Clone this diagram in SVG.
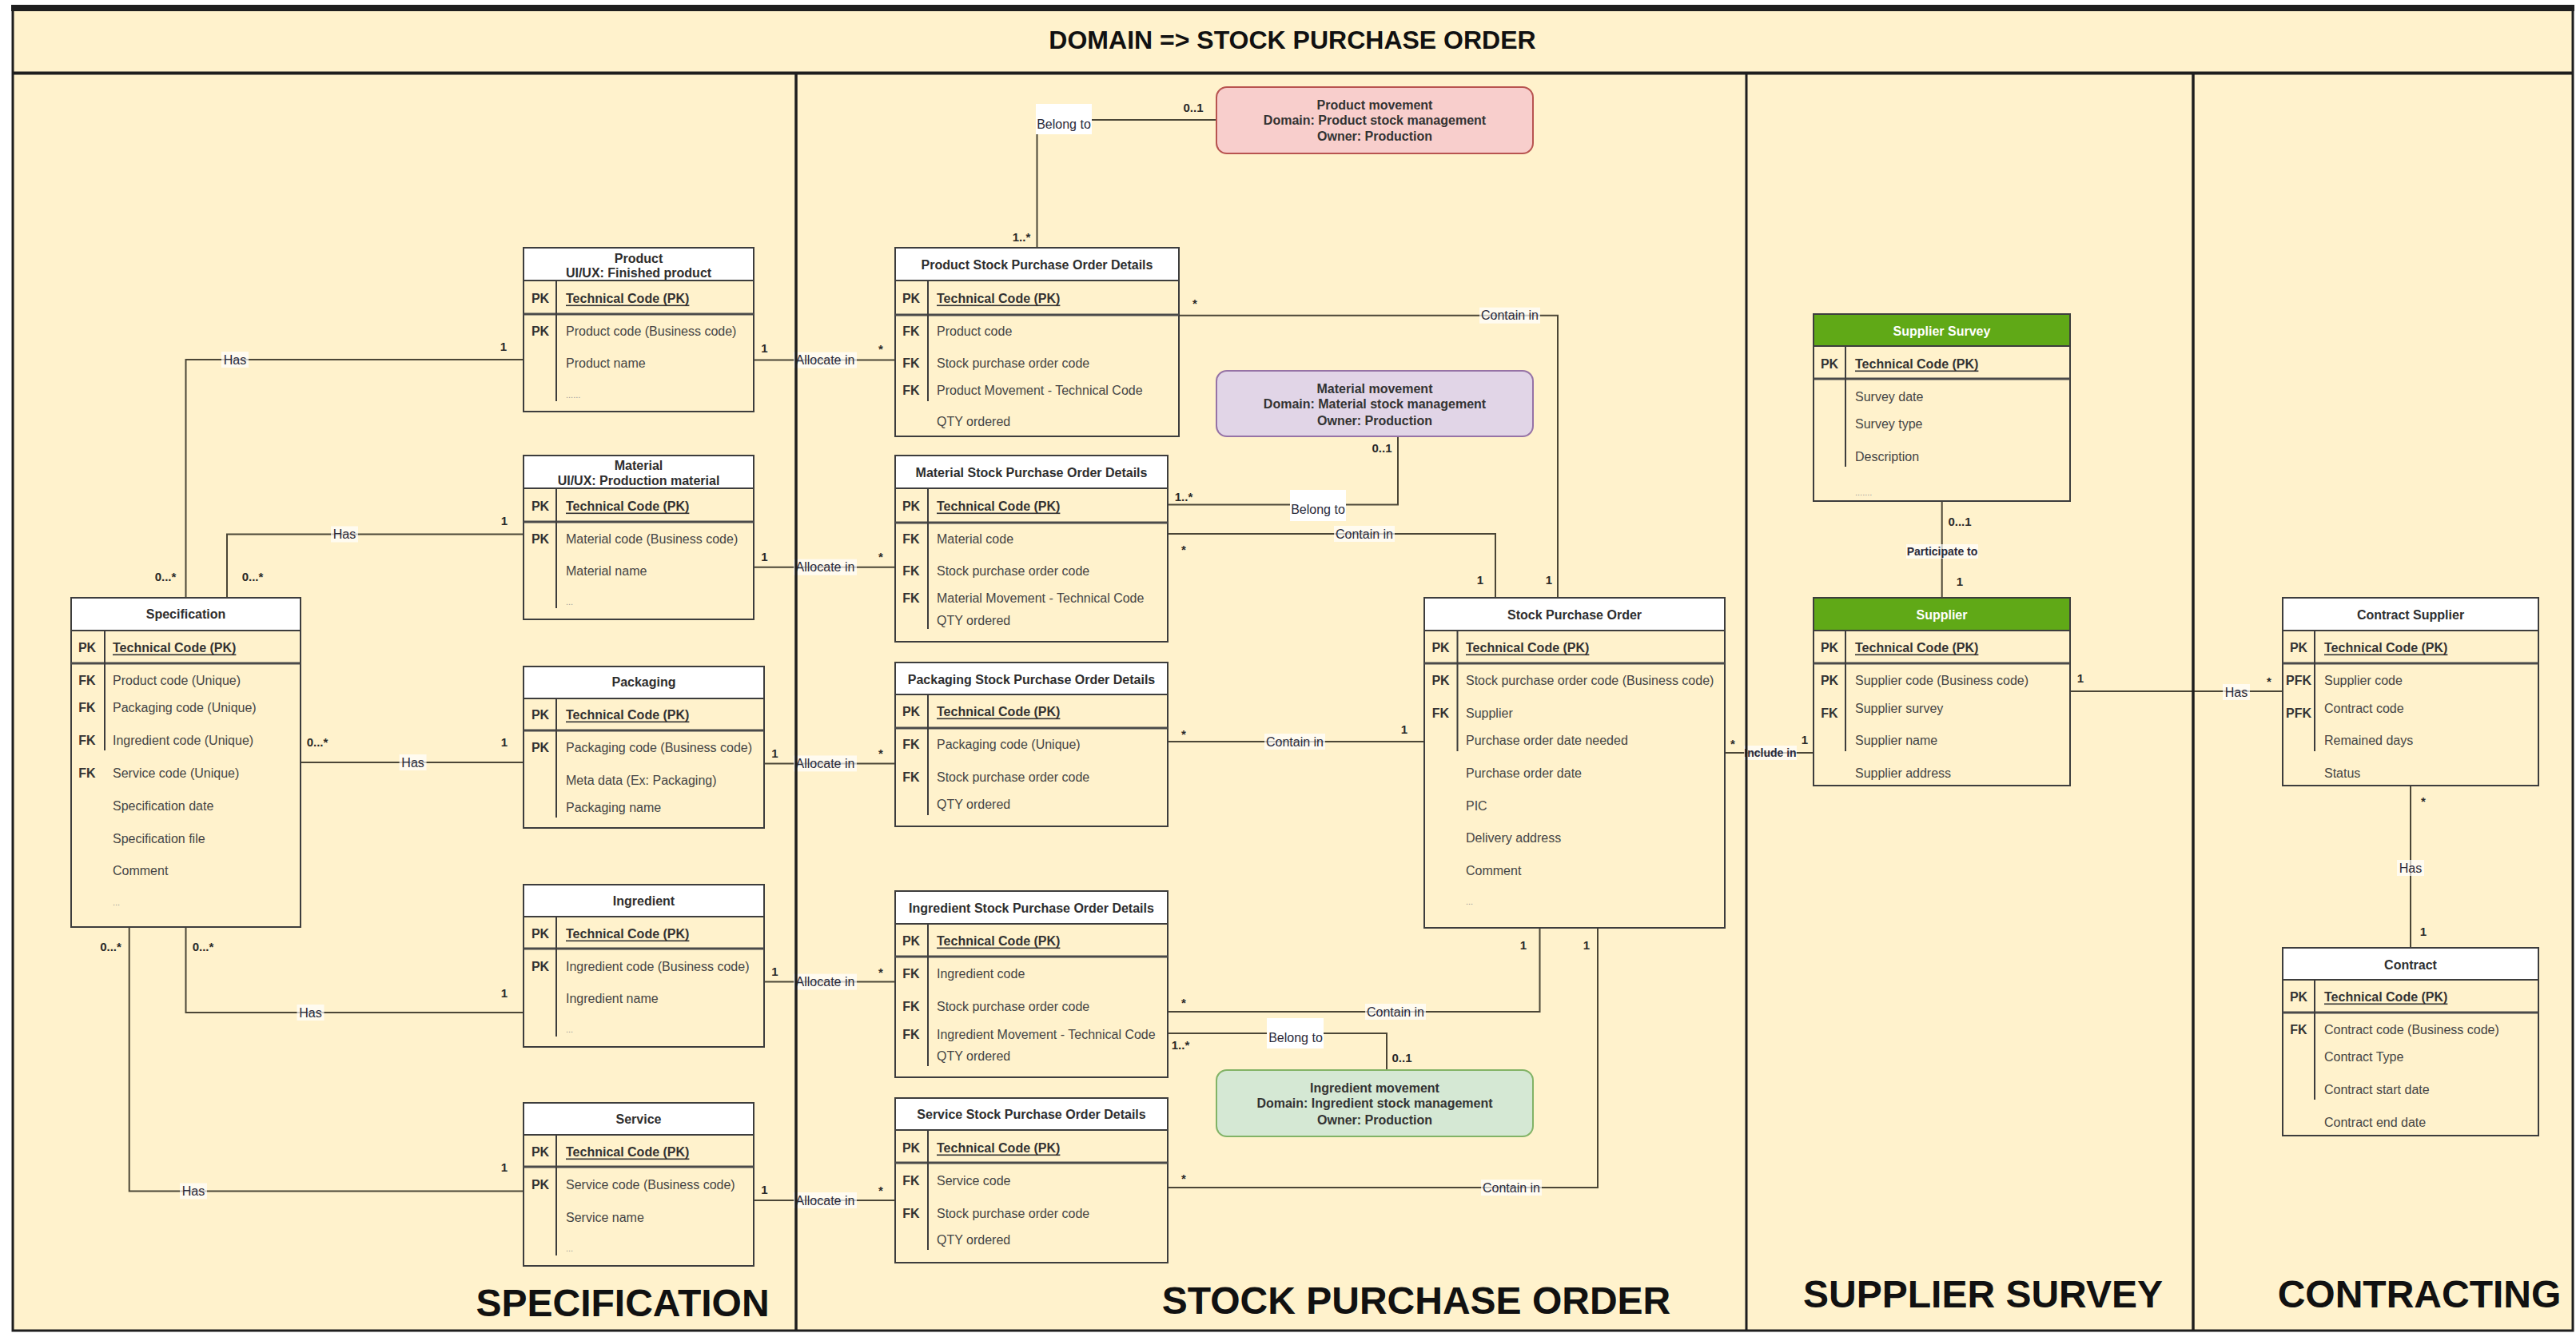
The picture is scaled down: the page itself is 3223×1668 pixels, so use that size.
<svg xmlns="http://www.w3.org/2000/svg" width="3223" height="1668" viewBox="0 0 3223 1668">
<style>
text{font-family:"Liberation Sans",Arial,Helvetica,sans-serif}
.hdr{fill:#ffffff;stroke:#3d3d3d;stroke-width:2}
.ghdr{fill:#60a917;stroke:#3d3d3d;stroke-width:2}
.box{fill:none;stroke:#3d3d3d;stroke-width:2}
.sep{stroke:#3d3d3d;stroke-width:2}
.sep2{stroke:#4a4a4a;stroke-width:3}
.tt{font-size:16px;font-weight:bold;fill:#2e2e2e;text-anchor:middle;dominant-baseline:central}
.wt{fill:#ffffff}
.k{font-size:16px;font-weight:bold;fill:#333333;text-anchor:middle;dominant-baseline:central}
.f{font-size:16px;fill:#454545;dominant-baseline:central}
.pk{font-size:16px;font-weight:bold;fill:#333333;text-decoration:underline;dominant-baseline:central}
.dots{font-size:11px;fill:#9a9a9a;dominant-baseline:central}
.mvp{fill:#f8cecc;stroke:#b85450;stroke-width:2}
.mvv{fill:#e1d5e7;stroke:#9673a6;stroke-width:2}
.mvg{fill:#d5e8d4;stroke:#82b366;stroke-width:2}
.mv{font-size:16px;font-weight:bold;fill:#333333;text-anchor:middle;dominant-baseline:central}
.c{fill:none;stroke:#4b4636;stroke-width:2}
.lb{font-size:16px;fill:#2a2a3a;text-anchor:middle;dominant-baseline:central}
.lbs{font-size:14px;font-weight:bold;fill:#2a2a3a;text-anchor:middle;dominant-baseline:central}
.lbg{fill:#ffffff;opacity:0.7}
.lbw{fill:#ffffff}
.cd{font-size:15px;font-weight:bold;fill:#2a2a2a;text-anchor:middle;dominant-baseline:central}
.big{font-size:48px;font-weight:bold;fill:#111111;text-anchor:middle}
.fr{stroke:#1e1e1e;fill:none}
</style>
<rect x="0" y="0" width="3223" height="1668" fill="#ffffff"/>
<rect x="15.5" y="10" width="3203" height="1655" fill="#fff2cc"/>
<text x="1617" y="61" font-size="32" font-weight="bold" fill="#111111" text-anchor="middle">DOMAIN =&gt; STOCK PURCHASE ORDER</text>

<g id="connectors">
<path class="c" d="M232.5,748 V450 H655"/>
<path class="c" d="M284,748 V668.5 H655"/>
<path class="c" d="M376,954 H655"/>
<path class="c" d="M232.5,1160 V1267 H655"/>
<path class="c" d="M161.7,1160 V1490.5 H655"/>
<path class="c" d="M943,450.6 H1120"/>
<path class="c" d="M943,709.7 H1120"/>
<path class="c" d="M956,955.4 H1120"/>
<path class="c" d="M956,1228.6 H1120"/>
<path class="c" d="M943,1502 H1120"/>
<path class="c" d="M1475,394.7 H1949 V748"/>
<path class="c" d="M1461,668 H1871 V748"/>
<path class="c" d="M1461,928 H1782"/>
<path class="c" d="M1461,1266 H1926.5 V1161"/>
<path class="c" d="M1461,1486 H1999 V1161"/>
<path class="c" d="M1297.5,310 V150 H1522"/>
<path class="c" d="M1461,631.5 H1749 V546.5"/>
<path class="c" d="M1461,1293 H1735 V1339"/>
<path class="c" d="M2158,942 H2269"/>
<path class="c" d="M2429.7,627 V748"/>
<path class="c" d="M2590,865 H2856"/>
<path class="c" d="M3016,983 V1186"/>

<rect class="lbg" x="277" y="440" width="34" height="20"/><text class="lb" x="294" y="450">Has</text>
<rect class="lbg" x="414" y="658.5" width="34" height="20"/><text class="lb" x="431" y="668.5">Has</text>
<rect class="lbg" x="499.6" y="944" width="34" height="20"/><text class="lb" x="516.6" y="954">Has</text>
<rect class="lbg" x="371.5" y="1257" width="34" height="20"/><text class="lb" x="388.5" y="1267">Has</text>
<rect class="lbg" x="225" y="1480.5" width="34" height="20"/><text class="lb" x="242" y="1490.5">Has</text>
<rect class="lbg" x="993" y="440.6" width="79" height="20"/><text class="lb" x="1032.5" y="450.6">Allocate in</text>
<rect class="lbg" x="993" y="699.7" width="79" height="20"/><text class="lb" x="1032.5" y="709.7">Allocate in</text>
<rect class="lbg" x="993" y="945.4" width="79" height="20"/><text class="lb" x="1032.5" y="955.4">Allocate in</text>
<rect class="lbg" x="993" y="1218.6" width="79" height="20"/><text class="lb" x="1032.5" y="1228.6">Allocate in</text>
<rect class="lbg" x="993" y="1492" width="79" height="20"/><text class="lb" x="1032.5" y="1502">Allocate in</text>
<rect class="lbg" x="1851" y="384.7" width="76" height="20"/><text class="lb" x="1889" y="394.7">Contain in</text>
<rect class="lbg" x="1669" y="658" width="76" height="20"/><text class="lb" x="1707" y="668">Contain in</text>
<rect class="lbg" x="1582" y="918" width="76" height="20"/><text class="lb" x="1620" y="928">Contain in</text>
<rect class="lbg" x="1708" y="1256" width="76" height="20"/><text class="lb" x="1746" y="1266">Contain in</text>
<rect class="lbg" x="1853" y="1476" width="76" height="20"/><text class="lb" x="1891" y="1486">Contain in</text>
<rect class="lbw" x="1296" y="130" width="70" height="38"/><text class="lb" x="1331" y="155">Belong to</text>
<rect class="lbw" x="1614" y="613" width="70" height="39"/><text class="lb" x="1649" y="637">Belong to</text>
<rect class="lbw" x="1585" y="1274" width="71" height="38"/><text class="lb" x="1621" y="1298.5">Belong to</text>
<rect class="lbg" x="2182" y="933" width="66" height="18"/><text class="lbs" x="2215" y="942">Include in</text>
<rect class="lbg" x="2385" y="681" width="90" height="18"/><text class="lbs" x="2430" y="690">Participate to</text>
<rect class="lbg" x="2781" y="856" width="34" height="20"/><text class="lb" x="2798" y="866">Has</text>
<rect class="lbg" x="2999" y="1076" width="34" height="20"/><text class="lb" x="3016" y="1086">Has</text>

<text class="cd" x="630" y="433">1</text><text class="cd" x="207" y="721">0...*</text>
<text class="cd" x="631" y="651">1</text><text class="cd" x="316" y="721">0...*</text>
<text class="cd" x="397" y="928.5">0...*</text><text class="cd" x="631" y="928">1</text>
<text class="cd" x="254" y="1184">0...*</text><text class="cd" x="631" y="1242">1</text>
<text class="cd" x="138.5" y="1184">0...*</text><text class="cd" x="631" y="1460">1</text>
<text class="cd" x="956.5" y="435">1</text><text class="cd" x="1102" y="436">*</text>
<text class="cd" x="956.5" y="696">1</text><text class="cd" x="1102" y="696">*</text>
<text class="cd" x="969.5" y="942">1</text><text class="cd" x="1102" y="942">*</text>
<text class="cd" x="969.5" y="1215">1</text><text class="cd" x="1102" y="1216">*</text>
<text class="cd" x="956.5" y="1488">1</text><text class="cd" x="1102" y="1489">*</text>
<text class="cd" x="1495" y="379">*</text><text class="cd" x="1938" y="725">1</text>
<text class="cd" x="1481" y="687">*</text><text class="cd" x="1852" y="725">1</text>
<text class="cd" x="1481" y="918">*</text><text class="cd" x="1757" y="912">1</text>
<text class="cd" x="1481" y="1254">*</text><text class="cd" x="1906" y="1182">1</text>
<text class="cd" x="1481" y="1474">*</text><text class="cd" x="1985" y="1182">1</text>
<text class="cd" x="1278" y="296.5">1..*</text><text class="cd" x="1493" y="134">0..1</text>
<text class="cd" x="1481" y="621">1..*</text><text class="cd" x="1729" y="560">0..1</text>
<text class="cd" x="1477" y="1307">1..*</text><text class="cd" x="1754" y="1323">0..1</text>
<text class="cd" x="2168" y="930">*</text><text class="cd" x="2258" y="925">1</text>
<text class="cd" x="2452" y="652">0...1</text><text class="cd" x="2452" y="727">1</text>
<text class="cd" x="2603" y="848">1</text><text class="cd" x="2839" y="852">*</text>
<text class="cd" x="3032" y="1002">*</text><text class="cd" x="3032" y="1165">1</text>
</g>

<g id="specification">
<rect class="hdr" x="89" y="748" width="287" height="41"/>
<rect class="box" x="89" y="748" width="287" height="412"/>
<line class="sep2" x1="89" y1="830" x2="376" y2="830"/>
<line class="sep" x1="131" y1="789" x2="131" y2="939"/>
<text class="tt" x="232.5" y="768.5">Specification</text>
<text class="k" x="109" y="810">PK</text><text class="pk" x="141" y="810">Technical Code (PK)</text>
<text class="k" x="109" y="851">FK</text><text class="f" x="141" y="851">Product code (Unique)</text>
<text class="k" x="109" y="885">FK</text><text class="f" x="141" y="885">Packaging code (Unique)</text>
<text class="k" x="109" y="926">FK</text><text class="f" x="141" y="926">Ingredient code (Unique)</text>
<text class="k" x="109" y="967">FK</text><text class="f" x="141" y="967">Service code (Unique)</text>
<text class="f" x="141" y="1008">Specification date</text>
<text class="f" x="141" y="1049">Specification file</text>
<text class="f" x="141" y="1089">Comment</text>
<text class="dots" x="141" y="1129">...</text>
</g>

<g id="product">
<rect class="hdr" x="655" y="310" width="288" height="41"/>
<rect class="box" x="655" y="310" width="288" height="205"/>
<line class="sep2" x1="655" y1="393" x2="943" y2="393"/>
<line class="sep" x1="696" y1="351" x2="696" y2="502"/>
<text class="tt" x="799" y="323">Product</text>
<text class="tt" x="799" y="341">UI/UX: Finished product</text>
<text class="k" x="676" y="373">PK</text><text class="pk" x="708" y="373">Technical Code (PK)</text>
<text class="k" x="676" y="414">PK</text><text class="f" x="708" y="414">Product code (Business code)</text>
<text class="f" x="708" y="454">Product name</text>
<text class="dots" x="708" y="494">......</text>
</g>

<g id="material">
<rect class="hdr" x="655" y="570" width="288" height="41"/>
<rect class="box" x="655" y="570" width="288" height="205"/>
<line class="sep2" x1="655" y1="653" x2="943" y2="653"/>
<line class="sep" x1="696" y1="611" x2="696" y2="761"/>
<text class="tt" x="799" y="582">Material</text>
<text class="tt" x="799" y="601">UI/UX: Production material</text>
<text class="k" x="676" y="633">PK</text><text class="pk" x="708" y="633">Technical Code (PK)</text>
<text class="k" x="676" y="674">PK</text><text class="f" x="708" y="674">Material code (Business code)</text>
<text class="f" x="708" y="714">Material name</text>
<text class="dots" x="708" y="753">...</text>
</g>

<g id="packaging">
<rect class="hdr" x="655" y="834" width="301" height="40"/>
<rect class="box" x="655" y="834" width="301" height="202"/>
<line class="sep2" x1="655" y1="914" x2="956" y2="914"/>
<line class="sep" x1="696" y1="874" x2="696" y2="1023"/>
<text class="tt" x="805.5" y="853.5">Packaging</text>
<text class="k" x="676" y="894">PK</text><text class="pk" x="708" y="894">Technical Code (PK)</text>
<text class="k" x="676" y="935">PK</text><text class="f" x="708" y="935">Packaging code (Business code)</text>
<text class="f" x="708" y="976">Meta data (Ex: Packaging)</text>
<text class="f" x="708" y="1010">Packaging name</text>
</g>

<g id="ingredient">
<rect class="hdr" x="655" y="1107" width="301" height="40"/>
<rect class="box" x="655" y="1107" width="301" height="203"/>
<line class="sep2" x1="655" y1="1187" x2="956" y2="1187"/>
<line class="sep" x1="696" y1="1147" x2="696" y2="1297"/>
<text class="tt" x="805.5" y="1127">Ingredient</text>
<text class="k" x="676" y="1168">PK</text><text class="pk" x="708" y="1168">Technical Code (PK)</text>
<text class="k" x="676" y="1209">PK</text><text class="f" x="708" y="1209">Ingredient code (Business code)</text>
<text class="f" x="708" y="1249">Ingredient name</text>
<text class="dots" x="708" y="1288">...</text>
</g>

<g id="service">
<rect class="hdr" x="655" y="1380" width="288" height="40"/>
<rect class="box" x="655" y="1380" width="288" height="204"/>
<line class="sep2" x1="655" y1="1460" x2="943" y2="1460"/>
<line class="sep" x1="696" y1="1420" x2="696" y2="1571"/>
<text class="tt" x="799" y="1400">Service</text>
<text class="k" x="676" y="1441">PK</text><text class="pk" x="708" y="1441">Technical Code (PK)</text>
<text class="k" x="676" y="1482">PK</text><text class="f" x="708" y="1482">Service code (Business code)</text>
<text class="f" x="708" y="1523">Service name</text>
<text class="dots" x="708" y="1562">...</text>
</g>

<g id="product-spod">
<rect class="hdr" x="1120" y="310" width="355" height="41"/>
<rect class="box" x="1120" y="310" width="355" height="236"/>
<line class="sep2" x1="1120" y1="394" x2="1475" y2="394"/>
<line class="sep" x1="1161" y1="351" x2="1161" y2="502"/>
<text class="tt" x="1297.5" y="331">Product Stock Purchase Order Details</text>
<text class="k" x="1140" y="373">PK</text><text class="pk" x="1172" y="373">Technical Code (PK)</text>
<text class="k" x="1140" y="414">FK</text><text class="f" x="1172" y="414">Product code</text>
<text class="k" x="1140" y="454">FK</text><text class="f" x="1172" y="454">Stock purchase order code</text>
<text class="k" x="1140" y="488">FK</text><text class="f" x="1172" y="488">Product Movement - Technical Code</text>
<text class="f" x="1172" y="527">QTY ordered</text>
</g>

<g id="material-spod">
<rect class="hdr" x="1120" y="570" width="341" height="41"/>
<rect class="box" x="1120" y="570" width="341" height="233"/>
<line class="sep2" x1="1120" y1="654" x2="1461" y2="654"/>
<line class="sep" x1="1161" y1="611" x2="1161" y2="787"/>
<text class="tt" x="1290.5" y="591">Material Stock Purchase Order Details</text>
<text class="k" x="1140" y="633">PK</text><text class="pk" x="1172" y="633">Technical Code (PK)</text>
<text class="k" x="1140" y="674">FK</text><text class="f" x="1172" y="674">Material code</text>
<text class="k" x="1140" y="714">FK</text><text class="f" x="1172" y="714">Stock purchase order code</text>
<text class="k" x="1140" y="748">FK</text><text class="f" x="1172" y="748">Material Movement - Technical Code</text>
<text class="f" x="1172" y="776">QTY ordered</text>
</g>

<g id="packaging-spod">
<rect class="hdr" x="1120" y="829" width="341" height="40"/>
<rect class="box" x="1120" y="829" width="341" height="205"/>
<line class="sep2" x1="1120" y1="911" x2="1461" y2="911"/>
<line class="sep" x1="1161" y1="869" x2="1161" y2="1020"/>
<text class="tt" x="1290.5" y="850">Packaging Stock Purchase Order Details</text>
<text class="k" x="1140" y="890">PK</text><text class="pk" x="1172" y="890">Technical Code (PK)</text>
<text class="k" x="1140" y="931">FK</text><text class="f" x="1172" y="931">Packaging code (Unique)</text>
<text class="k" x="1140" y="972">FK</text><text class="f" x="1172" y="972">Stock purchase order code</text>
<text class="f" x="1172" y="1006">QTY ordered</text>
</g>

<g id="ingredient-spod">
<rect class="hdr" x="1120" y="1115" width="341" height="41"/>
<rect class="box" x="1120" y="1115" width="341" height="233"/>
<line class="sep2" x1="1120" y1="1197" x2="1461" y2="1197"/>
<line class="sep" x1="1161" y1="1156" x2="1161" y2="1334"/>
<text class="tt" x="1290.5" y="1136">Ingredient Stock Purchase Order Details</text>
<text class="k" x="1140" y="1177">PK</text><text class="pk" x="1172" y="1177">Technical Code (PK)</text>
<text class="k" x="1140" y="1218">FK</text><text class="f" x="1172" y="1218">Ingredient code</text>
<text class="k" x="1140" y="1259">FK</text><text class="f" x="1172" y="1259">Stock purchase order code</text>
<text class="k" x="1140" y="1294">FK</text><text class="f" x="1172" y="1294">Ingredient Movement - Technical Code</text>
<text class="f" x="1172" y="1321">QTY ordered</text>
</g>

<g id="service-spod">
<rect class="hdr" x="1120" y="1374" width="341" height="40"/>
<rect class="box" x="1120" y="1374" width="341" height="206"/>
<line class="sep2" x1="1120" y1="1455" x2="1461" y2="1455"/>
<line class="sep" x1="1161" y1="1414" x2="1161" y2="1564"/>
<text class="tt" x="1290.5" y="1394.5">Service Stock Purchase Order Details</text>
<text class="k" x="1140" y="1436">PK</text><text class="pk" x="1172" y="1436">Technical Code (PK)</text>
<text class="k" x="1140" y="1477">FK</text><text class="f" x="1172" y="1477">Service code</text>
<text class="k" x="1140" y="1518">FK</text><text class="f" x="1172" y="1518">Stock purchase order code</text>
<text class="f" x="1172" y="1551">QTY ordered</text>
</g>

<g id="product-movement">
<rect class="mvp" x="1522" y="109" width="396" height="83" rx="13"/>
<text class="mv" x="1720" y="131">Product movement</text>
<text class="mv" x="1720" y="150.5">Domain: Product stock management</text>
<text class="mv" x="1720" y="170">Owner: Production</text>
</g>

<g id="material-movement">
<rect class="mvv" x="1522" y="464" width="396" height="82" rx="13"/>
<text class="mv" x="1720" y="486">Material movement</text>
<text class="mv" x="1720" y="505.5">Domain: Material stock management</text>
<text class="mv" x="1720" y="526">Owner: Production</text>
</g>

<g id="ingredient-movement">
<rect class="mvg" x="1522" y="1339" width="396" height="83" rx="13"/>
<text class="mv" x="1720" y="1361">Ingredient movement</text>
<text class="mv" x="1720" y="1380.5">Domain: Ingredient stock management</text>
<text class="mv" x="1720" y="1401">Owner: Production</text>
</g>

<g id="stock-purchase-order">
<rect class="hdr" x="1782" y="748" width="376" height="41"/>
<rect class="box" x="1782" y="748" width="376" height="413"/>
<line class="sep2" x1="1782" y1="830" x2="2158" y2="830"/>
<line class="sep" x1="1823.5" y1="789" x2="1823.5" y2="940"/>
<text class="tt" x="1970" y="769">Stock Purchase Order</text>
<text class="k" x="1802.5" y="810">PK</text><text class="pk" x="1834" y="810">Technical Code (PK)</text>
<text class="k" x="1802.5" y="851">PK</text><text class="f" x="1834" y="851">Stock purchase order code (Business code)</text>
<text class="k" x="1802.5" y="892">FK</text><text class="f" x="1834" y="892">Supplier</text>
<text class="f" x="1834" y="926">Purchase order date needed</text>
<text class="f" x="1834" y="967">Purchase order date</text>
<text class="f" x="1834" y="1008">PIC</text>
<text class="f" x="1834" y="1048">Delivery address</text>
<text class="f" x="1834" y="1089">Comment</text>
<text class="dots" x="1834" y="1128">...</text>
</g>

<g id="supplier-survey">
<rect class="ghdr" x="2269" y="393" width="321" height="40"/>
<rect class="box" x="2269" y="393" width="321" height="234"/>
<line class="sep2" x1="2269" y1="474" x2="2590" y2="474"/>
<line class="sep" x1="2309" y1="433" x2="2309" y2="584"/>
<text class="tt wt" x="2429.5" y="414">Supplier Survey</text>
<text class="k" x="2289" y="455">PK</text><text class="pk" x="2321" y="455">Technical Code (PK)</text>
<text class="f" x="2321" y="496">Survey date</text>
<text class="f" x="2321" y="530">Survey type</text>
<text class="f" x="2321" y="571">Description</text>
<text class="dots" x="2321" y="616">.......</text>
</g>

<g id="supplier">
<rect class="ghdr" x="2269" y="748" width="321" height="41"/>
<rect class="box" x="2269" y="748" width="321" height="235"/>
<line class="sep2" x1="2269" y1="830" x2="2590" y2="830"/>
<line class="sep" x1="2309" y1="789" x2="2309" y2="940"/>
<text class="tt wt" x="2429.5" y="769">Supplier</text>
<text class="k" x="2289" y="810">PK</text><text class="pk" x="2321" y="810">Technical Code (PK)</text>
<text class="k" x="2289" y="851">PK</text><text class="f" x="2321" y="851">Supplier code (Business code)</text>
<text class="k" x="2289" y="892">FK</text><text class="f" x="2321" y="886">Supplier survey</text>
<text class="f" x="2321" y="926">Supplier name</text>
<text class="f" x="2321" y="967">Supplier address</text>
</g>

<g id="contract-supplier">
<rect class="hdr" x="2856" y="748" width="320" height="41"/>
<rect class="box" x="2856" y="748" width="320" height="235"/>
<line class="sep2" x1="2856" y1="830" x2="3176" y2="830"/>
<line class="sep" x1="2896" y1="789" x2="2896" y2="940"/>
<text class="tt" x="3016" y="769">Contract Supplier</text>
<text class="k" x="2876" y="810">PK</text><text class="pk" x="2908" y="810">Technical Code (PK)</text>
<text class="k" x="2876" y="851">PFK</text><text class="f" x="2908" y="851">Supplier code</text>
<text class="k" x="2876" y="892">PFK</text><text class="f" x="2908" y="886">Contract code</text>
<text class="f" x="2908" y="926">Remained days</text>
<text class="f" x="2908" y="967">Status</text>
</g>

<g id="contract">
<rect class="hdr" x="2856" y="1186" width="320" height="40"/>
<rect class="box" x="2856" y="1186" width="320" height="235"/>
<line class="sep2" x1="2856" y1="1267" x2="3176" y2="1267"/>
<line class="sep" x1="2896" y1="1226" x2="2896" y2="1376"/>
<text class="tt" x="3016" y="1207">Contract</text>
<text class="k" x="2876" y="1247">PK</text><text class="pk" x="2908" y="1247">Technical Code (PK)</text>
<text class="k" x="2876" y="1288">FK</text><text class="f" x="2908" y="1288">Contract code (Business code)</text>
<text class="f" x="2908" y="1322">Contract Type</text>
<text class="f" x="2908" y="1363">Contract start date</text>
<text class="f" x="2908" y="1404">Contract end date</text>
</g>

<g id="frame">
<rect class="fr" x="16" y="10" width="3203" height="1655" stroke-width="3"/>
<line class="fr" x1="14" y1="10" x2="3221" y2="10" stroke-width="8"/>
<line class="fr" x1="16" y1="91.5" x2="3219" y2="91.5" stroke-width="4"/>
<line class="fr" x1="996" y1="92" x2="996" y2="1665" stroke-width="3.5"/>
<line class="fr" x1="2185" y1="92" x2="2185" y2="1665" stroke-width="3"/>
<line class="fr" x1="2744" y1="92" x2="2744" y2="1665" stroke-width="3.5"/>
</g>

<text class="big" x="779" y="1647">SPECIFICATION</text>
<text class="big" x="1772" y="1644">STOCK PURCHASE ORDER</text>
<text class="big" x="2481" y="1636">SUPPLIER SURVEY</text>
<text class="big" x="3027" y="1636">CONTRACTING</text>
</svg>
